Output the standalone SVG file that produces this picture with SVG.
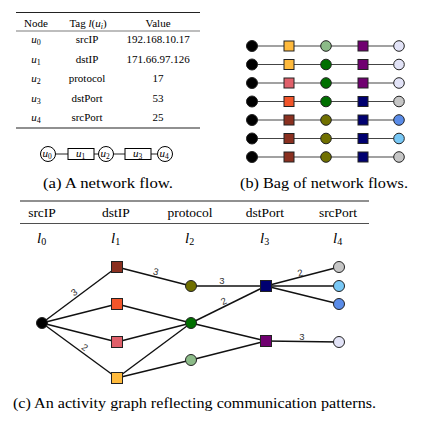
<svg xmlns="http://www.w3.org/2000/svg" width="425" height="422" viewBox="0 0 425 422">
<style>
.t{font-family:"Liberation Serif","Times New Roman",serif;fill:#000}
.cap{font-size:15.5px}
.tab{font-size:11px;text-anchor:middle}
.hd{font-size:13.5px;text-anchor:middle}
.it{font-style:italic}
.rule{stroke:#222;fill:none}
.edge{stroke:#111;stroke-width:1.4;fill:none}
.bedge{stroke:#444;stroke-width:1.1;fill:none}
.n{stroke:#222;stroke-width:1}
.cn{fill:#fff;stroke:#000;stroke-width:1}
.lbl{font-family:"Liberation Sans",Arial,sans-serif;font-size:9.5px;fill:#333;text-anchor:middle}
.k{fill:#000}.org{fill:#FFBA3C}.lgr{fill:#8CBB88}.pur{fill:#700070}.lav{fill:#E2E3F7}.grn{fill:#007000}
.pnk{fill:#E0606A}.red{fill:#F2552A}.nav{fill:#000070}.gry{fill:#C6C6C6}.brn{fill:#8A3020}.olv{fill:#707000}
.blu{fill:#5A8CE8}.lbu{fill:#78C8F6}
</style>

<!-- (a) table -->
<g id="table-a">
<line class="rule" x1="16" y1="12.5" x2="200" y2="12.5" stroke-width="1.1"/>
<line class="rule" x1="16" y1="31" x2="200" y2="31" stroke-width="0.6"/>
<line class="rule" x1="16" y1="128" x2="200" y2="128" stroke-width="1.1"/>
<text class="t tab" x="36" y="27">Node</text>
<text class="t tab" x="88" y="27">Tag <tspan class="it">l</tspan>(<tspan class="it">u</tspan><tspan class="it" font-size="8" dy="2">i</tspan><tspan dy="-2">)</tspan></text>
<text class="t tab" x="158" y="27">Value</text>
<text class="t tab it" x="36" y="43">u<tspan font-size="8" dy="2" font-style="normal">0</tspan></text>
<text class="t tab" x="87" y="43">srcIP</text>
<text class="t tab" x="158" y="43">192.168.10.17</text>
<text class="t tab it" x="36" y="62.5">u<tspan font-size="8" dy="2" font-style="normal">1</tspan></text>
<text class="t tab" x="87" y="62.5">dstIP</text>
<text class="t tab" x="158" y="62.5">171.66.97.126</text>
<text class="t tab it" x="36" y="82">u<tspan font-size="8" dy="2" font-style="normal">2</tspan></text>
<text class="t tab" x="87" y="82">protocol</text>
<text class="t tab" x="158" y="82">17</text>
<text class="t tab it" x="36" y="101.5">u<tspan font-size="8" dy="2" font-style="normal">3</tspan></text>
<text class="t tab" x="87" y="101.5">dstPort</text>
<text class="t tab" x="158" y="101.5">53</text>
<text class="t tab it" x="36" y="121">u<tspan font-size="8" dy="2" font-style="normal">4</tspan></text>
<text class="t tab" x="87" y="121">srcPort</text>
<text class="t tab" x="158" y="121">25</text>
</g>

<!-- (a) chain -->
<g id="chain-connectors">
<line class="rule" x1="55.5" y1="154" x2="68" y2="154" stroke-width="1"/>
<line class="rule" x1="94" y1="154" x2="98.5" y2="154" stroke-width="1"/>
<line class="rule" x1="113.5" y1="154" x2="125" y2="154" stroke-width="1"/>
<line class="rule" x1="151" y1="154" x2="157.5" y2="154" stroke-width="1"/>
</g>
<g id="chain-u0"><circle class="cn" cx="48" cy="154" r="7.5"/><text class="t tab it" x="47" y="157" font-size="10.5">u<tspan font-size="7.5" dy="1.5" font-style="normal">0</tspan></text></g>
<g id="chain-u1"><rect class="cn" x="68" y="148.5" width="26" height="11"/><text class="t tab it" x="80.5" y="157" font-size="10.5">u<tspan font-size="7.5" dy="1.5" font-style="normal">1</tspan></text></g>
<g id="chain-u2"><circle class="cn" cx="106" cy="154" r="7.5"/><text class="t tab it" x="105" y="157" font-size="10.5">u<tspan font-size="7.5" dy="1.5" font-style="normal">2</tspan></text></g>
<g id="chain-u3"><rect class="cn" x="125" y="148.5" width="26" height="11"/><text class="t tab it" x="137.5" y="157" font-size="10.5">u<tspan font-size="7.5" dy="1.5" font-style="normal">3</tspan></text></g>
<g id="chain-u4"><circle class="cn" cx="165" cy="154" r="7.5"/><text class="t tab it" x="164" y="157" font-size="10.5">u<tspan font-size="7.5" dy="1.5" font-style="normal">4</tspan></text></g>

<text class="t cap" x="43" y="188" textLength="130" lengthAdjust="spacingAndGlyphs">(a)  A network flow.</text>

<!-- (b) bag of flows -->
<g id="bag-connectors">
<line class="bedge" x1="252" y1="46" x2="399" y2="46"/>
<line class="bedge" x1="252" y1="64.5" x2="399" y2="64.5"/>
<line class="bedge" x1="252" y1="83" x2="399" y2="83"/>
<line class="bedge" x1="252" y1="101.5" x2="399" y2="101.5"/>
<line class="bedge" x1="252" y1="120" x2="399" y2="120"/>
<line class="bedge" x1="252" y1="138.5" x2="399" y2="138.5"/>
<line class="bedge" x1="252" y1="157" x2="399" y2="157"/>
</g>
<g id="bag-f1">
<g id="b1-0"><circle class="n k" cx="252" cy="46" r="5.5"/></g>
<g id="b1-1"><rect class="n org" x="284" y="41" width="10" height="10"/></g>
<g id="b1-2"><circle class="n lgr" cx="326" cy="46" r="5.3"/></g>
<g id="b1-3"><rect class="n pur" x="358" y="41" width="10" height="10"/></g>
<g id="b1-4"><circle class="n lav" cx="399" cy="46" r="5.3"/></g>
</g>
<g id="bag-f2">
<g id="b2-0"><circle class="n k" cx="252" cy="64.5" r="5.5"/></g>
<g id="b2-1"><rect class="n org" x="284" y="59.5" width="10" height="10"/></g>
<g id="b2-2"><circle class="n grn" cx="326" cy="64.5" r="5.3"/></g>
<g id="b2-3"><rect class="n pur" x="358" y="59.5" width="10" height="10"/></g>
<g id="b2-4"><circle class="n lav" cx="399" cy="64.5" r="5.3"/></g>
</g>
<g id="bag-f3">
<g id="b3-0"><circle class="n k" cx="252" cy="83" r="5.5"/></g>
<g id="b3-1"><rect class="n pnk" x="284" y="78" width="10" height="10"/></g>
<g id="b3-2"><circle class="n grn" cx="326" cy="83" r="5.3"/></g>
<g id="b3-3"><rect class="n pur" x="358" y="78" width="10" height="10"/></g>
<g id="b3-4"><circle class="n lav" cx="399" cy="83" r="5.3"/></g>
</g>
<g id="bag-f4">
<g id="b4-0"><circle class="n k" cx="252" cy="101.5" r="5.5"/></g>
<g id="b4-1"><rect class="n red" x="284" y="96.5" width="10" height="10"/></g>
<g id="b4-2"><circle class="n grn" cx="326" cy="101.5" r="5.3"/></g>
<g id="b4-3"><rect class="n nav" x="358" y="96.5" width="10" height="10"/></g>
<g id="b4-4"><circle class="n gry" cx="399" cy="101.5" r="5.3"/></g>
</g>
<g id="bag-f5">
<g id="b5-0"><circle class="n k" cx="252" cy="120" r="5.5"/></g>
<g id="b5-1"><rect class="n brn" x="284" y="115" width="10" height="10"/></g>
<g id="b5-2"><circle class="n olv" cx="326" cy="120" r="5.3"/></g>
<g id="b5-3"><rect class="n nav" x="358" y="115" width="10" height="10"/></g>
<g id="b5-4"><circle class="n blu" cx="399" cy="120" r="5.3"/></g>
</g>
<g id="bag-f6">
<g id="b6-0"><circle class="n k" cx="252" cy="138.5" r="5.5"/></g>
<g id="b6-1"><rect class="n brn" x="284" y="133.5" width="10" height="10"/></g>
<g id="b6-2"><circle class="n olv" cx="326" cy="138.5" r="5.3"/></g>
<g id="b6-3"><rect class="n nav" x="358" y="133.5" width="10" height="10"/></g>
<g id="b6-4"><circle class="n lbu" cx="399" cy="138.5" r="5.3"/></g>
</g>
<g id="bag-f7">
<g id="b7-0"><circle class="n k" cx="252" cy="157" r="5.5"/></g>
<g id="b7-1"><rect class="n brn" x="284" y="152" width="10" height="10"/></g>
<g id="b7-2"><circle class="n olv" cx="326" cy="157" r="5.3"/></g>
<g id="b7-3"><rect class="n nav" x="358" y="152" width="10" height="10"/></g>
<g id="b7-4"><circle class="n gry" cx="399" cy="157" r="5.3"/></g>
</g>

<text class="t cap" x="240" y="188" textLength="168" lengthAdjust="spacingAndGlyphs">(b)  Bag of network flows.</text>

<!-- (c) header -->
<g id="header-c">
<line class="rule" x1="20" y1="201" x2="369" y2="201" stroke-width="1.1"/>
<line class="rule" x1="20" y1="223.5" x2="369" y2="223.5" stroke-width="0.8"/>
<text class="t hd" x="42" y="217">srcIP</text>
<text class="t hd" x="116" y="217">dstIP</text>
<text class="t hd" x="190" y="217">protocol</text>
<text class="t hd" x="265" y="217">dstPort</text>
<text class="t hd" x="338" y="217">srcPort</text>
<text class="t it" x="37" y="243" font-size="15">l<tspan font-size="10" dy="2" font-style="normal">0</tspan></text>
<text class="t it" x="111" y="243" font-size="15">l<tspan font-size="10" dy="2" font-style="normal">1</tspan></text>
<text class="t it" x="185" y="243" font-size="15">l<tspan font-size="10" dy="2" font-style="normal">2</tspan></text>
<text class="t it" x="260" y="243" font-size="15">l<tspan font-size="10" dy="2" font-style="normal">3</tspan></text>
<text class="t it" x="333" y="243" font-size="15">l<tspan font-size="10" dy="2" font-style="normal">4</tspan></text>
</g>

<!-- (c) activity graph -->
<g id="connectors">
<line class="edge" x1="42" y1="323" x2="117" y2="267"/>
<line class="edge" x1="42" y1="323" x2="117" y2="304"/>
<line class="edge" x1="42" y1="323" x2="117" y2="342"/>
<line class="edge" x1="42" y1="323" x2="117" y2="378"/>
<line class="edge" x1="117" y1="267" x2="191" y2="286"/>
<line class="edge" x1="117" y1="304" x2="191" y2="323"/>
<line class="edge" x1="117" y1="342" x2="191" y2="323"/>
<line class="edge" x1="117" y1="378" x2="191" y2="323"/>
<line class="edge" x1="117" y1="378" x2="191" y2="360"/>
<line class="edge" x1="191" y1="286" x2="266" y2="286"/>
<line class="edge" x1="191" y1="323" x2="266" y2="286"/>
<line class="edge" x1="191" y1="323" x2="266" y2="341"/>
<line class="edge" x1="191" y1="360" x2="266" y2="341"/>
<line class="edge" x1="266" y1="286" x2="339" y2="267"/>
<line class="edge" x1="266" y1="286" x2="339" y2="286"/>
<line class="edge" x1="266" y1="286" x2="339" y2="304"/>
<line class="edge" x1="266" y1="341" x2="339" y2="342"/>
<text class="lbl" transform="translate(76,295) rotate(-37)">3</text>
<text class="lbl" transform="translate(83,350) rotate(36)">2</text>
<text class="lbl" transform="translate(155,275) rotate(14)">3</text>
<text class="lbl" x="222" y="284">3</text>
<text class="lbl" transform="translate(225,304) rotate(-26)">2</text>
<text class="lbl" transform="translate(301,276) rotate(-15)">2</text>
<text class="lbl" x="302" y="340">3</text>
</g>
<g id="n-src"><circle class="n k" cx="42" cy="323" r="5.5"/></g>
<g id="n-dst1"><rect class="n brn" x="111.5" y="261.5" width="11" height="11"/></g>
<g id="n-dst2"><rect class="n red" x="111.5" y="298.5" width="11" height="11"/></g>
<g id="n-dst3"><rect class="n pnk" x="111.5" y="336.5" width="11" height="11"/></g>
<g id="n-dst4"><rect class="n org" x="111.5" y="372.5" width="11" height="11"/></g>
<g id="n-proto1"><circle class="n olv" cx="191" cy="286" r="5.5"/></g>
<g id="n-proto2"><circle class="n grn" cx="191" cy="323" r="5.5"/></g>
<g id="n-proto3"><circle class="n lgr" cx="191" cy="360" r="5.5"/></g>
<g id="n-dport1"><rect class="n nav" x="260.5" y="280.5" width="11" height="11"/></g>
<g id="n-dport2"><rect class="n pur" x="260.5" y="335.5" width="11" height="11"/></g>
<g id="n-sport1"><circle class="n gry" cx="339" cy="267" r="5.5"/></g>
<g id="n-sport2"><circle class="n lbu" cx="339" cy="286" r="5.5"/></g>
<g id="n-sport3"><circle class="n blu" cx="339" cy="304" r="5.5"/></g>
<g id="n-sport4"><circle class="n lav" cx="339" cy="342" r="5.5"/></g>

<text class="t" x="13" y="408" font-size="15" textLength="363" lengthAdjust="spacingAndGlyphs">(c)  An activity graph reflecting communication patterns.</text>
</svg>
